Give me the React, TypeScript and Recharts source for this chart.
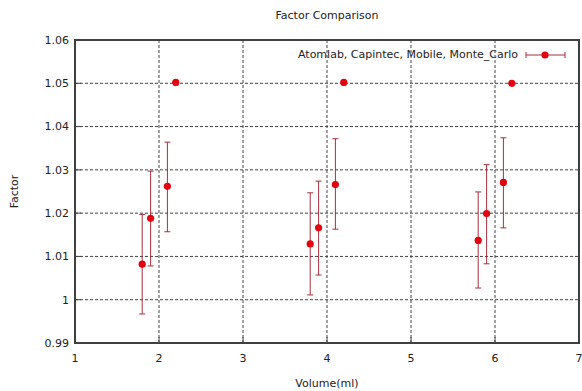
import React from 'react';
import {
  CartesianGrid,
  ErrorBar,
  Label,
  ReferenceArea,
  Scatter,
  ScatterChart,
  XAxis,
  YAxis,
} from 'recharts';

const volumes = [1.8, 1.9, 2.1, 2.2, 3.8, 3.9, 4.1, 4.2, 5.8, 5.9, 6.1, 6.2];
const factors = [1.0082, 1.0188, 1.0262, 1.0502, 1.0129, 1.0166, 1.0266, 1.0502, 1.0137, 1.0199, 1.0271, 1.05];
const lows = [0.9967, 1.0078, 1.0157, 1.0502, 1.0011, 1.0057, 1.0163, 1.0502, 1.0027, 1.0083, 1.0166, 1.05];
const highs = [1.0197, 1.0297, 1.0364, 1.0502, 1.0247, 1.0274, 1.0372, 1.0502, 1.0249, 1.0312, 1.0374, 1.05];

const xTicks = [1, 2, 3, 4, 5, 6, 7];
const yTicks = [0.99, 1, 1.01, 1.02, 1.03, 1.04, 1.05, 1.06];
// interior grid lines only, the frame is solid
const xGrid = [2, 3, 4, 5, 6];
const yGrid = [1, 1.01, 1.02, 1.03, 1.04, 1.05];

const SERIES_NAME = 'Atomlab, Capintec, Mobile, Monte_Carlo';

const data = volumes.map((v, i) => ({
  volume: v,
  factor: factors[i],
  err: [factors[i] - lows[i], highs[i] - factors[i]],
}));

const FONT = 'DejaVu Sans, sans-serif';
const DOT = '#e3000f';
const BAR = '#a3303e';
const AXIS = '#404040';
const tickStyle = { fill: '#222', fontSize: 11, fontFamily: FONT };

const Dot = (props: any) => <circle cx={props.cx} cy={props.cy} r={3.6} fill={DOT} />;

export default function App() {
  return (
    <div style={{ position: 'absolute', left: 0, top: 0, width: 582, height: 391, background: '#fff' }}>
      <div
        style={{
          position: 'absolute',
          left: 75,
          width: 504,
          top: 9,
          textAlign: 'center',
          fontFamily: FONT,
          fontSize: 11,
          color: '#222',
        }}
      >
        Factor Comparison
      </div>
      <ScatterChart width={582} height={391} margin={{ top: 40, right: 3, left: 0, bottom: 0 }}>
        <CartesianGrid
          xAxisId="bottom"
          yAxisId="left"
          horizontalValues={yGrid}
          verticalValues={xGrid}
          stroke="#444"
          strokeDasharray="3 2"
          strokeWidth={1}
        />
        <ReferenceArea
          xAxisId="bottom"
          yAxisId="left"
          x1={1}
          x2={7}
          y1={0.99}
          y2={1.06}
          fill="none"
          fillOpacity={0}
          stroke={AXIS}
          strokeWidth={2}
          ifOverflow="visible"
        />
        <XAxis
          xAxisId="bottom"
          dataKey="volume"
          type="number"
          domain={[1, 7]}
          ticks={xTicks}
          height={48}
          tick={tickStyle}
          tickSize={-6}
          tickMargin={17}
          axisLine={{ stroke: AXIS }}
          tickLine={{ stroke: AXIS }}
        >
          <Label value="Volume(ml)" position="insideBottom" offset={4} style={{ fill: '#222', fontSize: 11, fontFamily: FONT }} />
        </XAxis>
        <YAxis
          yAxisId="left"
          dataKey="factor"
          type="number"
          domain={[0.99, 1.06]}
          ticks={yTicks}
          width={75}
          tick={tickStyle}
          tickSize={-6}
          tickMargin={12}
          tickFormatter={(v: number) => String(Number(v.toFixed(2)))}
          axisLine={{ stroke: AXIS }}
          tickLine={{ stroke: AXIS }}
          allowDataOverflow
        >
          <Label value="Factor" angle={-90} position="insideLeft" offset={14} style={{ fill: '#222', fontSize: 11, fontFamily: FONT, textAnchor: 'middle' }} />
        </YAxis>
        <Scatter
          name={SERIES_NAME}
          data={data}
          xAxisId="bottom"
          yAxisId="left"
          shape={<Dot />}
          isAnimationActive={false}
        >
          <ErrorBar dataKey="err" direction="y" width={3} stroke={BAR} strokeWidth={1} />
        </Scatter>
      </ScatterChart>
      <div
        style={{
          position: 'absolute',
          top: 48,
          right: 10,
          display: 'flex',
          alignItems: 'center',
          fontFamily: FONT,
          fontSize: 11,
          color: '#222',
        }}
      >
        <span>{SERIES_NAME}</span>
        <svg width={50} height={12} style={{ marginLeft: 4 }}>
          <line x1={4} y1={6} x2={43} y2={6} stroke={BAR} strokeWidth={1} />
          <line x1={4} y1={3} x2={4} y2={9} stroke={BAR} strokeWidth={1} />
          <line x1={43} y1={3} x2={43} y2={9} stroke={BAR} strokeWidth={1} />
          <circle cx={23} cy={6} r={3.6} fill={DOT} />
        </svg>
      </div>
    </div>
  );
}
